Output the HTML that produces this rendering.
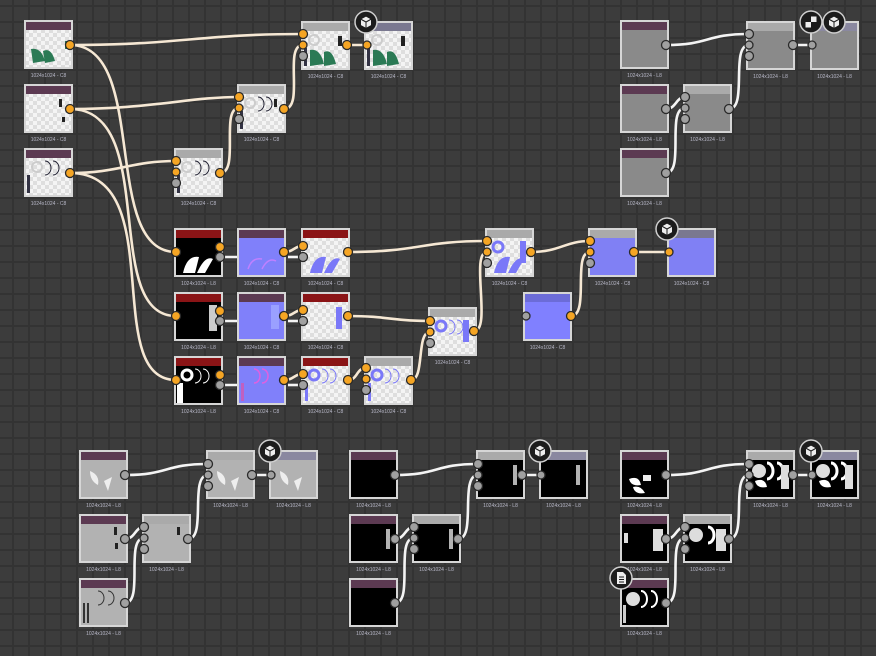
<!DOCTYPE html>
<html><head><meta charset="utf-8"><style>
html,body{margin:0;padding:0;background:#3c3c3c;overflow:hidden}
svg{display:block}
.f{stroke:#d6d6d6;stroke-width:2}
.t{font-family:"Liberation Sans",sans-serif;font-size:5px;fill:#b8b8c8;text-anchor:middle}
.w{fill:none;stroke:#f6e8d4;stroke-width:2.6}
.ww{fill:none;stroke:#f4f4f4;stroke-width:2.6}
.po{fill:#f5a524;stroke:#2a2a2a;stroke-width:1.3}
.pg{fill:#a0a0a0;stroke:#2a2a2a;stroke-width:1.3}
</style></head><body>
<svg width="876" height="656" viewBox="0 0 876 656" xmlns="http://www.w3.org/2000/svg">
<defs>
<pattern id="grid" width="16" height="16" patternUnits="userSpaceOnUse" x="12" y="5">
<rect width="16" height="16" fill="#3c3c3c"/><rect width="2" height="16" fill="#333"/><rect width="16" height="2" fill="#333"/>
</pattern>
<pattern id="ck" width="8" height="8" patternUnits="userSpaceOnUse">
<rect width="8" height="8" fill="#f4f4f4"/><rect width="4" height="4" fill="#dedede"/><rect x="4" y="4" width="4" height="4" fill="#dedede"/>
</pattern>
<g id="cube"><circle r="11" fill="#1c1c1c" stroke="#cfcfcf" stroke-width="1.5"/><path d="M0,-6 L5.5,-3 L5.5,3.5 L0,6.5 L-5.5,3.5 L-5.5,-3 Z M0,0 L5.5,-3 M0,0 L-5.5,-3 M0,0 L0,6.5" fill="#eee" stroke="#1c1c1c" stroke-width="1"/></g>
</defs>
<rect width="876" height="656" fill="url(#grid)"/>

<!-- WIRES color graph -->
<path class="w" d="M70,45 C180,45 200,34 303,34"/>
<path class="w" d="M70,45 C150,45 100,252 176,252"/>
<path class="w" d="M70,109 C150,109 190,97 239,97"/>
<path class="w" d="M70,109 C160,109 100,316 176,316"/>
<path class="w" d="M70,173 C120,173 130,161 176,161"/>
<path class="w" d="M70,173 C170,173 100,380 176,380"/>
<path class="w" d="M220,173 C240,173 220,108 239,108"/>
<path class="w" d="M284,109 C305,109 283,45 303,45"/>
<path class="w" d="M347,45 L367,45"/>
<path class="ww" d="M220,257 L240,257"/><path class="ww" d="M220,321 L240,321"/><path class="ww" d="M220,385 L240,385"/>
<path class="w" d="M284,252 C294,252 294,246 303,246"/><path class="ww" d="M288,257 L303,257"/>
<path class="w" d="M284,316 C294,316 294,310 303,310"/><path class="ww" d="M288,321 L303,321"/>
<path class="w" d="M284,380 C294,380 294,374 303,374"/><path class="ww" d="M288,385 L303,385"/>
<path class="w" d="M348,252 C420,252 420,241 487,241"/>
<path class="w" d="M348,316 C390,316 390,321 430,321"/>
<path class="w" d="M348,380 C358,380 356,368 366,368"/>
<path class="w" d="M411,380 C425,380 416,332 430,332"/>
<path class="w" d="M474,331 C492,331 470,252 487,252"/>
<path class="w" d="M531,252 C560,252 565,241 590,241"/>
<path class="w" d="M571,316 C590,316 572,252 590,252"/>
<path class="w" d="M634,252 L669,252"/>
<!-- top right white -->
<path class="ww" d="M666,45 C710,45 705,34 749,34"/>
<path class="ww" d="M666,109 C676,109 676,97 685,97"/>
<path class="ww" d="M666,173 C685,173 666,108 685,108"/>
<path class="ww" d="M729,109 C748,109 730,45 749,45"/>
<path class="ww" d="M793,45 L812,45"/>
<!-- bottom groups -->
<g transform="translate(-541,430)">
<path class="ww" d="M666,45 C710,45 705,34 749,34"/><path class="ww" d="M666,109 C676,109 676,97 685,97"/><path class="ww" d="M666,173 C685,173 666,108 685,108"/><path class="ww" d="M729,109 C748,109 730,45 749,45"/><path class="ww" d="M793,45 L812,45"/></g>
<g transform="translate(-271,430)">
<path class="ww" d="M666,45 C710,45 705,34 749,34"/><path class="ww" d="M666,109 C676,109 676,97 685,97"/><path class="ww" d="M666,173 C685,173 666,108 685,108"/><path class="ww" d="M729,109 C748,109 730,45 749,45"/><path class="ww" d="M793,45 L812,45"/></g>
<g transform="translate(0,430)">
<path class="ww" d="M666,45 C710,45 705,34 749,34"/><path class="ww" d="M666,109 C676,109 676,97 685,97"/><path class="ww" d="M666,173 C685,173 666,108 685,108"/><path class="ww" d="M729,109 C748,109 730,45 749,45"/><path class="ww" d="M793,45 L812,45"/></g>

<!-- NODES top-left -->
<g transform="translate(25,21)"><rect width="47" height="47" fill="url(#ck)" class="f"/><rect x="1" y="1" width="45" height="8" fill="#5c3a52"/><path d="M6,28 Q16,26 20,40 L8,42 Z M18,30 Q26,26 30,40 L20,42 Z" fill="#2b7a55"/><rect x="40" y="20" width="5" height="8" fill="#2b7a55"/><text class="t" x="23.5" y="56">1024x1024 - C8</text></g>
<g transform="translate(25,85)"><rect width="47" height="47" fill="url(#ck)" class="f"/><rect x="1" y="1" width="45" height="8" fill="#5c3a52"/><rect x="34" y="14" width="3" height="8" fill="#222"/><rect x="37" y="32" width="3" height="5" fill="#222"/><text class="t" x="23.5" y="56">1024x1024 - C8</text></g>
<g transform="translate(25,149)"><rect width="47" height="47" fill="url(#ck)" class="f"/><rect x="1" y="1" width="45" height="8" fill="#5c3a52"/><circle cx="12" cy="18" r="5" fill="none" stroke="#ccc" stroke-width="2"/><path d="M20,12 a6,7 0 0 1 0,14 M28,12 a6,7 0 0 1 0,14" fill="none" stroke="#223" stroke-width="1"/><rect x="2" y="26" width="3" height="18" fill="#334"/><text class="t" x="23.5" y="56">1024x1024 - C8</text></g>
<g transform="translate(175,149)"><rect width="47" height="47" fill="url(#ck)" class="f"/><rect x="1" y="1" width="45" height="8" fill="#aaa"/><circle cx="12" cy="18" r="5" fill="none" stroke="#ccc" stroke-width="2"/><path d="M20,12 a6,7 0 0 1 0,14 M28,12 a6,7 0 0 1 0,14" fill="none" stroke="#223" stroke-width="1"/><rect x="2" y="26" width="3" height="18" fill="#334"/><text class="t" x="23.5" y="56">1024x1024 - C8</text></g>
<g transform="translate(238,85)"><rect width="47" height="47" fill="url(#ck)" class="f"/><rect x="1" y="1" width="45" height="8" fill="#aaa"/><circle cx="12" cy="18" r="5" fill="none" stroke="#ccc" stroke-width="2"/><path d="M20,12 a6,7 0 0 1 0,14 M28,12 a6,7 0 0 1 0,14" fill="none" stroke="#223" stroke-width="1"/><rect x="2" y="26" width="3" height="18" fill="#334"/><rect x="36" y="14" width="3" height="8" fill="#222"/><text class="t" x="23.5" y="56">1024x1024 - C8</text></g>
<g transform="translate(302,22)"><rect width="47" height="47" fill="url(#ck)" class="f"/><rect x="1" y="1" width="45" height="8" fill="#aaa"/><path d="M8,28 Q18,26 22,42 L8,44 Z M22,30 Q30,26 34,42 L22,44 Z" fill="#2b7a55"/><circle cx="12" cy="18" r="5" fill="none" stroke="#ccc" stroke-width="2"/><rect x="2" y="26" width="3" height="18" fill="#334"/><rect x="36" y="14" width="4" height="10" fill="#222"/><text class="t" x="23.5" y="56">1024x1024 - C8</text></g>
<g transform="translate(365,22)"><rect width="47" height="47" fill="url(#ck)" class="f"/><rect x="1" y="1" width="45" height="8" fill="#7a7890"/><path d="M8,28 Q18,26 22,42 L8,44 Z M22,30 Q30,26 34,42 L22,44 Z" fill="#2b7a55"/><circle cx="12" cy="18" r="5" fill="none" stroke="#ccc" stroke-width="2"/><rect x="2" y="26" width="3" height="18" fill="#334"/><rect x="36" y="14" width="4" height="10" fill="#222"/><text class="t" x="23.5" y="56">1024x1024 - C8</text></g>

<!-- middle rows -->
<g transform="translate(175,229)"><rect width="47" height="47" fill="#000" class="f"/><rect x="1" y="1" width="45" height="8" fill="#8a1416"/><path d="M8,44 Q12,26 24,28 L20,44 Z M22,44 Q30,26 38,30 L30,44 Z" fill="#fff"/><text class="t" x="23.5" y="56">1024x1024 - L8</text></g>
<g transform="translate(175,293)"><rect width="47" height="47" fill="#000" class="f"/><rect x="1" y="1" width="45" height="8" fill="#8a1416"/><rect x="34" y="12" width="8" height="26" fill="#fff" opacity=".8"/><text class="t" x="23.5" y="56">1024x1024 - L8</text></g>
<g transform="translate(175,357)"><rect width="47" height="47" fill="#000" class="f"/><rect x="1" y="1" width="45" height="8" fill="#8a1416"/><circle cx="12" cy="18" r="5" fill="none" stroke="#fff" stroke-width="3"/><path d="M20,12 a6,7 0 0 1 0,14 M28,12 a6,7 0 0 1 0,14" fill="none" stroke="#fff" stroke-width="1"/><rect x="2" y="26" width="6" height="20" fill="#fff"/><text class="t" x="23.5" y="56">1024x1024 - L8</text></g>
<g transform="translate(238,229)"><rect width="47" height="47" fill="#8080fa" class="f"/><rect x="1" y="1" width="45" height="8" fill="#5c3a52"/><path d="M10,40 Q14,28 24,30 M24,40 Q30,28 38,32" fill="none" stroke="#c080ff" stroke-width="1.5"/><text class="t" x="23.5" y="56">1024x1024 - C8</text></g>
<g transform="translate(238,293)"><rect width="47" height="47" fill="#8080fa" class="f"/><rect x="1" y="1" width="45" height="8" fill="#5c3a52"/><rect x="33" y="12" width="8" height="24" fill="#9aa0ff"/><text class="t" x="23.5" y="56">1024x1024 - C8</text></g>
<g transform="translate(238,357)"><rect width="47" height="47" fill="#8080fa" class="f"/><rect x="1" y="1" width="45" height="8" fill="#5c3a52"/><path d="M16,12 a6,7 0 0 1 0,14 M24,12 a6,7 0 0 1 0,14" fill="none" stroke="#e060e0" stroke-width="1.5"/><rect x="3" y="26" width="3" height="18" fill="#c060c0"/><text class="t" x="23.5" y="56">1024x1024 - C8</text></g>
<g transform="translate(302,229)"><rect width="47" height="47" fill="url(#ck)" class="f"/><rect x="1" y="1" width="45" height="8" fill="#8a1416"/><path d="M8,44 Q12,26 24,28 L20,44 Z M22,44 Q30,26 38,30 L30,44 Z" fill="#7a78f8"/><text class="t" x="23.5" y="56">1024x1024 - C8</text></g>
<g transform="translate(302,293)"><rect width="47" height="47" fill="url(#ck)" class="f"/><rect x="1" y="1" width="45" height="8" fill="#8a1416"/><rect x="34" y="14" width="6" height="22" fill="#7a78f8"/><text class="t" x="23.5" y="56">1024x1024 - C8</text></g>
<g transform="translate(302,357)"><rect width="47" height="47" fill="url(#ck)" class="f"/><rect x="1" y="1" width="45" height="8" fill="#8a1416"/><circle cx="12" cy="18" r="5" fill="none" stroke="#7a78f8" stroke-width="3"/><path d="M20,12 a6,7 0 0 1 0,14 M28,12 a6,7 0 0 1 0,14" fill="none" stroke="#7a78f8" stroke-width="1"/><rect x="3" y="26" width="3" height="18" fill="#7a78f8"/><text class="t" x="23.5" y="56">1024x1024 - C8</text></g>
<g transform="translate(365,357)"><rect width="47" height="47" fill="url(#ck)" class="f"/><rect x="1" y="1" width="45" height="8" fill="#aaa"/><circle cx="12" cy="18" r="5" fill="none" stroke="#7a78f8" stroke-width="3"/><path d="M20,12 a6,7 0 0 1 0,14 M28,12 a6,7 0 0 1 0,14" fill="none" stroke="#7a78f8" stroke-width="1"/><rect x="3" y="26" width="3" height="18" fill="#7a78f8"/><text class="t" x="23.5" y="56">1024x1024 - C8</text></g>
<g transform="translate(429,308)"><rect width="47" height="47" fill="url(#ck)" class="f"/><rect x="1" y="1" width="45" height="8" fill="#aaa"/><circle cx="12" cy="18" r="5" fill="none" stroke="#7a78f8" stroke-width="3"/><path d="M20,12 a6,7 0 0 1 0,14 M28,12 a6,7 0 0 1 0,14" fill="none" stroke="#7a78f8" stroke-width="1"/><rect x="34" y="12" width="6" height="22" fill="#7a78f8"/><text class="t" x="23.5" y="56">1024x1024 - C8</text></g>
<g transform="translate(486,229)"><rect width="47" height="47" fill="url(#ck)" class="f"/><rect x="1" y="1" width="45" height="8" fill="#aaa"/><path d="M8,44 Q12,26 24,28 L20,44 Z M22,44 Q30,26 38,30 L30,44 Z" fill="#7a78f8"/><circle cx="12" cy="18" r="5" fill="none" stroke="#7a78f8" stroke-width="3"/><rect x="34" y="12" width="6" height="22" fill="#7a78f8"/><text class="t" x="23.5" y="56">1024x1024 - C8</text></g>
<g transform="translate(524,293)"><rect width="47" height="47" fill="#8080ff" class="f"/><rect x="1" y="1" width="45" height="8" fill="#6c6cd8"/><text class="t" x="23.5" y="56">1024x1024 - C8</text></g>
<g transform="translate(589,229)"><rect width="47" height="47" fill="#8080f4" class="f"/><rect x="1" y="1" width="45" height="8" fill="#aaa"/><text class="t" x="23.5" y="56">1024x1024 - C8</text></g>
<g transform="translate(668,229)"><rect width="47" height="47" fill="#8080f4" class="f"/><rect x="1" y="1" width="45" height="8" fill="#7a7890"/><text class="t" x="23.5" y="56">1024x1024 - C8</text></g>

<!-- top right gray -->
<g transform="translate(621,21)"><rect width="47" height="47" fill="#8a8a8a" class="f"/><rect x="1" y="1" width="45" height="8" fill="#5c3a52"/><text class="t" x="23.5" y="56">1024x1024 - L8</text></g>
<g transform="translate(621,85)"><rect width="47" height="47" fill="#8a8a8a" class="f"/><rect x="1" y="1" width="45" height="8" fill="#5c3a52"/><text class="t" x="23.5" y="56">1024x1024 - L8</text></g>
<g transform="translate(621,149)"><rect width="47" height="47" fill="#8a8a8a" class="f"/><rect x="1" y="1" width="45" height="8" fill="#5c3a52"/><text class="t" x="23.5" y="56">1024x1024 - L8</text></g>
<g transform="translate(684,85)"><rect width="47" height="47" fill="#8a8a8a" class="f"/><rect x="1" y="1" width="45" height="8" fill="#aaa"/><text class="t" x="23.5" y="56">1024x1024 - L8</text></g>
<g transform="translate(747,22)"><rect width="47" height="47" fill="#8a8a8a" class="f"/><rect x="1" y="1" width="45" height="8" fill="#aaa"/><text class="t" x="23.5" y="56">1024x1024 - L8</text></g>
<g transform="translate(811,22)"><rect width="47" height="47" fill="#8a8a8a" class="f"/><rect x="1" y="1" width="45" height="8" fill="#8a88a0"/><text class="t" x="23.5" y="56">1024x1024 - L8</text></g>

<!-- bottom group 1 -->
<g transform="translate(80,451)"><rect width="47" height="47" fill="#b2b2b2" class="f"/><rect x="1" y="1" width="45" height="8" fill="#5c3a52"/><path d="M10,20 Q20,24 18,34 Q10,30 10,20 Z M24,30 L32,26 L28,40 Z" fill="#eee"/><text class="t" x="23.5" y="56">1024x1024 - L8</text></g>
<g transform="translate(80,515)"><rect width="47" height="47" fill="#b2b2b2" class="f"/><rect x="1" y="1" width="45" height="8" fill="#5c3a52"/><rect x="34" y="12" width="3" height="8" fill="#222"/><rect x="35" y="28" width="3" height="6" fill="#222"/><text class="t" x="23.5" y="56">1024x1024 - L8</text></g>
<g transform="translate(80,579)"><rect width="47" height="47" fill="#b2b2b2" class="f"/><rect x="1" y="1" width="45" height="8" fill="#5c3a52"/><path d="M18,12 a6,7 0 0 1 0,14 M28,12 a6,7 0 0 1 0,14" fill="none" stroke="#333" stroke-width="1"/><rect x="3" y="24" width="2" height="20" fill="#333"/><rect x="7" y="24" width="2" height="20" fill="#333"/><text class="t" x="23.5" y="56">1024x1024 - L8</text></g>
<g transform="translate(143,515)"><rect width="47" height="47" fill="#b2b2b2" class="f"/><rect x="1" y="1" width="45" height="8" fill="#aaa"/><rect x="34" y="12" width="3" height="8" fill="#222"/><text class="t" x="23.5" y="56">1024x1024 - L8</text></g>
<g transform="translate(207,451)"><rect width="47" height="47" fill="#b2b2b2" class="f"/><rect x="1" y="1" width="45" height="8" fill="#aaa"/><path d="M10,20 Q20,24 18,34 Q10,30 10,20 Z M24,30 L32,26 L28,40 Z" fill="#eee"/><text class="t" x="23.5" y="56">1024x1024 - L8</text></g>
<g transform="translate(270,451)"><rect width="47" height="47" fill="#b2b2b2" class="f"/><rect x="1" y="1" width="45" height="8" fill="#8a88a0"/><path d="M10,20 Q20,24 18,34 Q10,30 10,20 Z M24,30 L32,26 L28,40 Z" fill="#eee"/><text class="t" x="23.5" y="56">1024x1024 - L8</text></g>

<!-- bottom group 2 -->
<g transform="translate(350,451)"><rect width="47" height="47" fill="#000" class="f"/><rect x="1" y="1" width="45" height="8" fill="#5c3a52"/><text class="t" x="23.5" y="56">1024x1024 - L8</text></g>
<g transform="translate(350,515)"><rect width="47" height="47" fill="#000" class="f"/><rect x="1" y="1" width="45" height="8" fill="#5c3a52"/><rect x="36" y="14" width="4" height="20" fill="#fff" opacity=".7"/><text class="t" x="23.5" y="56">1024x1024 - L8</text></g>
<g transform="translate(350,579)"><rect width="47" height="47" fill="#000" class="f"/><rect x="1" y="1" width="45" height="8" fill="#5c3a52"/><text class="t" x="23.5" y="56">1024x1024 - L8</text></g>
<g transform="translate(413,515)"><rect width="47" height="47" fill="#000" class="f"/><rect x="1" y="1" width="45" height="8" fill="#aaa"/><rect x="36" y="14" width="4" height="20" fill="#fff" opacity=".7"/><text class="t" x="23.5" y="56">1024x1024 - L8</text></g>
<g transform="translate(477,451)"><rect width="47" height="47" fill="#000" class="f"/><rect x="1" y="1" width="45" height="8" fill="#aaa"/><rect x="36" y="14" width="4" height="20" fill="#fff" opacity=".7"/><text class="t" x="23.5" y="56">1024x1024 - L8</text></g>
<g transform="translate(540,451)"><rect width="47" height="47" fill="#000" class="f"/><rect x="1" y="1" width="45" height="8" fill="#8a88a0"/><rect x="36" y="14" width="4" height="20" fill="#fff" opacity=".7"/><text class="t" x="23.5" y="56">1024x1024 - L8</text></g>

<!-- bottom group 3 -->
<g transform="translate(621,451)"><rect width="47" height="47" fill="#000" class="f"/><rect x="1" y="1" width="45" height="8" fill="#5c3a52"/><path d="M8,28 Q18,24 20,34 Q10,36 8,28 Z M12,36 Q20,34 24,42 Q14,44 12,36 Z" fill="#fff"/><rect x="22" y="24" width="8" height="6" fill="#eee"/><text class="t" x="23.5" y="56">1024x1024 - L8</text></g>
<g transform="translate(621,515)"><rect width="47" height="47" fill="#000" class="f"/><rect x="1" y="1" width="45" height="8" fill="#5c3a52"/><rect x="32" y="14" width="10" height="22" fill="#ddd"/><rect x="3" y="18" width="4" height="10" fill="#ddd"/><text class="t" x="23.5" y="56">1024x1024 - L8</text></g>
<g transform="translate(621,579)"><rect width="47" height="47" fill="#000" class="f"/><rect x="1" y="1" width="45" height="8" fill="#5c3a52"/><circle cx="12" cy="20" r="7" fill="#ddd"/><path d="M20,12 a6,8 0 0 1 0,16 M30,12 a6,8 0 0 1 0,16" fill="none" stroke="#fff" stroke-width="2"/><rect x="2" y="26" width="3" height="18" fill="#ccc"/><text class="t" x="23.5" y="56">1024x1024 - L8</text></g>
<g transform="translate(684,515)"><rect width="47" height="47" fill="#000" class="f"/><rect x="1" y="1" width="45" height="8" fill="#aaa"/><circle cx="12" cy="20" r="7" fill="#ddd"/><path d="M24,12 a6,8 0 0 1 0,16" fill="none" stroke="#fff" stroke-width="3"/><rect x="32" y="14" width="10" height="22" fill="#ddd"/><text class="t" x="23.5" y="56">1024x1024 - L8</text></g>
<g transform="translate(747,451)"><rect width="47" height="47" fill="#000" class="f"/><rect x="1" y="1" width="45" height="8" fill="#aaa"/><circle cx="12" cy="20" r="7" fill="#ddd"/><path d="M20,12 a6,8 0 0 1 0,16 M30,12 a6,8 0 0 1 0,16" fill="none" stroke="#fff" stroke-width="3"/><path d="M8,30 Q18,26 20,36 Q10,38 8,30 Z" fill="#fff"/><rect x="34" y="14" width="8" height="24" fill="#ddd"/><text class="t" x="23.5" y="56">1024x1024 - L8</text></g>
<g transform="translate(811,451)"><rect width="47" height="47" fill="#000" class="f"/><rect x="1" y="1" width="45" height="8" fill="#8a88a0"/><circle cx="12" cy="20" r="7" fill="#ddd"/><path d="M20,12 a6,8 0 0 1 0,16 M30,12 a6,8 0 0 1 0,16" fill="none" stroke="#fff" stroke-width="3"/><path d="M8,30 Q18,26 20,36 Q10,38 8,30 Z" fill="#fff"/><rect x="34" y="14" width="8" height="24" fill="#ddd"/><text class="t" x="23.5" y="56">1024x1024 - L8</text></g>

<!-- PORTS color graph -->
<circle class="po" cx="70" cy="45" r="4.5"/><circle class="po" cx="70" cy="109" r="4.5"/><circle class="po" cx="70" cy="173" r="4.5"/>
<circle class="po" cx="176" cy="161" r="4.5"/><circle class="po" cx="176" cy="172" r="4"/><circle class="pg" cx="176" cy="183" r="4.5"/><circle class="po" cx="220" cy="173" r="4.5"/>
<circle class="po" cx="239" cy="97" r="4.5"/><circle class="po" cx="239" cy="108" r="4"/><circle class="pg" cx="239" cy="119" r="4.5"/><circle class="po" cx="284" cy="109" r="4.5"/>
<circle class="po" cx="303" cy="34" r="4.5"/><circle class="po" cx="303" cy="45" r="4"/><circle class="pg" cx="303" cy="56" r="4.5"/><circle class="po" cx="347" cy="45" r="4.5"/><circle class="po" cx="367" cy="45" r="4"/>
<circle class="po" cx="176" cy="252" r="4.5"/><circle class="po" cx="220" cy="247" r="4.5"/><circle class="pg" cx="220" cy="257" r="4.5"/>
<circle class="po" cx="176" cy="316" r="4.5"/><circle class="po" cx="220" cy="311" r="4.5"/><circle class="pg" cx="220" cy="321" r="4.5"/>
<circle class="po" cx="176" cy="380" r="4.5"/><circle class="po" cx="220" cy="375" r="4.5"/><circle class="pg" cx="220" cy="385" r="4.5"/>
<circle class="po" cx="284" cy="252" r="4.5"/><circle class="po" cx="284" cy="316" r="4.5"/><circle class="po" cx="284" cy="380" r="4.5"/>
<circle class="po" cx="303" cy="246" r="4.5"/><circle class="pg" cx="303" cy="257" r="4.5"/><circle class="po" cx="348" cy="252" r="4.5"/>
<circle class="po" cx="303" cy="310" r="4.5"/><circle class="pg" cx="303" cy="321" r="4.5"/><circle class="po" cx="348" cy="316" r="4.5"/>
<circle class="po" cx="303" cy="374" r="4.5"/><circle class="pg" cx="303" cy="385" r="4.5"/><circle class="po" cx="348" cy="380" r="4.5"/>
<circle class="po" cx="366" cy="368" r="4.5"/><circle class="po" cx="366" cy="379" r="4"/><circle class="pg" cx="366" cy="390" r="4.5"/><circle class="po" cx="411" cy="380" r="4.5"/>
<circle class="po" cx="430" cy="321" r="4.5"/><circle class="po" cx="430" cy="332" r="4"/><circle class="pg" cx="430" cy="343" r="4.5"/><circle class="po" cx="474" cy="331" r="4.5"/>
<circle class="po" cx="487" cy="241" r="4.5"/><circle class="po" cx="487" cy="252" r="4"/><circle class="pg" cx="487" cy="263" r="4.5"/><circle class="po" cx="531" cy="252" r="4.5"/>
<circle class="pg" cx="526" cy="316" r="4"/><circle class="po" cx="571" cy="316" r="4.5"/>
<circle class="po" cx="590" cy="241" r="4.5"/><circle class="po" cx="590" cy="252" r="4"/><circle class="pg" cx="590" cy="263" r="4.5"/><circle class="po" cx="634" cy="252" r="4.5"/><circle class="po" cx="669" cy="252" r="4"/>
<!-- ports gray graphs -->
<g id="gp">
<circle class="pg" cx="666" cy="45" r="4.5"/><circle class="pg" cx="666" cy="109" r="4.5"/><circle class="pg" cx="666" cy="173" r="4.5"/>
<circle class="pg" cx="685" cy="97" r="4.5"/><circle class="pg" cx="685" cy="108" r="4"/><circle class="pg" cx="685" cy="119" r="4.5"/><circle class="pg" cx="729" cy="109" r="4.5"/>
<circle class="pg" cx="749" cy="34" r="4.5"/><circle class="pg" cx="749" cy="45" r="4"/><circle class="pg" cx="749" cy="56" r="4.5"/><circle class="pg" cx="793" cy="45" r="4.5"/><circle class="pg" cx="812" cy="45" r="4"/>
</g>
<use href="#gp" transform="translate(-541,430)"/>
<use href="#gp" transform="translate(-271,430)"/>
<use href="#gp" transform="translate(0,430)"/>

<!-- icons -->
<use href="#cube" x="366" y="22"/>
<use href="#cube" x="667" y="229"/>
<use href="#cube" x="834" y="22"/>
<g transform="translate(811,22)"><circle r="11" fill="#1c1c1c" stroke="#cfcfcf" stroke-width="1.5"/><rect x="-5.5" y="-5.5" width="11" height="11" fill="#eee"/><rect x="-5.5" y="-5.5" width="5.5" height="5.5" fill="#1c1c1c"/><rect x="0" y="0" width="5.5" height="5.5" fill="#1c1c1c"/></g>
<use href="#cube" x="270" y="451"/>
<use href="#cube" x="540" y="451"/>
<use href="#cube" x="811" y="451"/>
<g transform="translate(621,578)"><circle r="11" fill="#1c1c1c" stroke="#cfcfcf" stroke-width="1.5"/><path d="M-4,-6 L2,-6 L5,-3 L5,6 L-4,6 Z" fill="#eee"/><path d="M-2,-1 H3 M-2,1.5 H3 M-2,4 H3" stroke="#1c1c1c" stroke-width="0.9"/></g>
</svg>
</body></html>
